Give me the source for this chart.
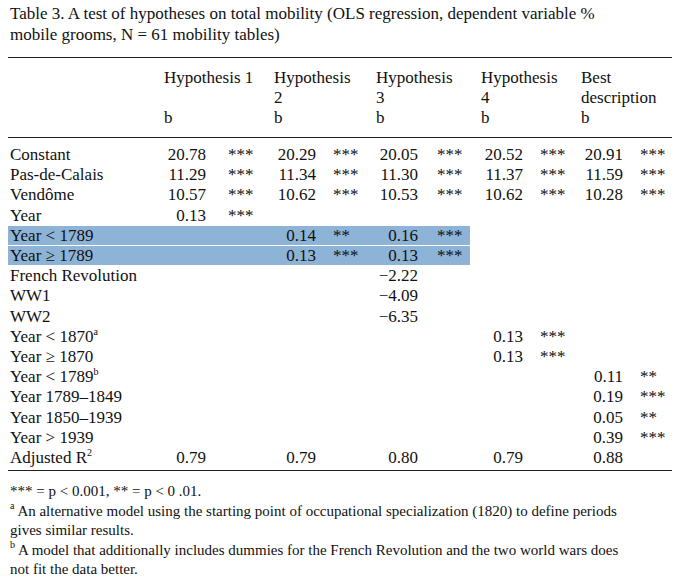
<!DOCTYPE html>
<html><head><meta charset="utf-8">
<script src="https://cdn.jsdelivr.net/npm/chart.js@4/dist/chart.umd.min.js"></script>
<style>
body{margin:0;background:#fff;font-family:"Liberation Serif","DejaVu Serif",serif;font-size:17px;color:#111;}
#t{position:relative;width:679px;height:582px;}
.a{position:absolute;white-space:nowrap;line-height:20px;}
.rule{position:absolute;left:8px;width:664px;height:1px;background:#222;}
.hl{position:absolute;left:8px;width:462px;height:19px;background:#8db3d6;}
.fn{font-size:15px;line-height:19px;}
sup{font-size:10px;line-height:0;vertical-align:0;position:relative;top:-7px;}
</style></head><body><div id="t"></div>
<script>
const title = ["Table 3.  A test of hypotheses on total mobility (OLS regression, dependent variable %", "mobile grooms, N = 61 mobility tables)"];
const headers = [["Hypothesis 1","","b"],["Hypothesis","2","b"],["Hypothesis","3","b"],["Hypothesis","4","b"],["Best","description","b"]];
const rowLabels = ["Constant","Pas-de-Calais","Vendôme","Year","Year < 1789","Year \u2265 1789","French Revolution","WW1","WW2","Year < 1870<sup>a</sup>","Year \u2265 1870","Year < 1789<sup>b</sup>","Year 1789\u20131849","Year 1850\u20131939","Year > 1939","Adjusted R<sup>2</sup>"];
// [value, stars] per column (Hyp1..Hyp4, Best)
const hyp1 = [["20.78","***"],["11.29","***"],["10.57","***"],["0.13","***"],null,null,null,null,null,null,null,null,null,null,null,["0.79",""]];
const hyp2 = [["20.29","***"],["11.34","***"],["10.62","***"],null,["0.14","**"],["0.13","***"],null,null,null,null,null,null,null,null,null,["0.79",""]];
const hyp3 = [["20.05","***"],["11.30","***"],["10.53","***"],null,["0.16","***"],["0.13","***"],["\u22122.22",""],["\u22124.09",""],["\u22126.35",""],null,null,null,null,null,null,["0.80",""]];
const hyp4 = [["20.52","***"],["11.37","***"],["10.62","***"],null,null,null,null,null,null,["0.13","***"],["0.13","***"],null,null,null,null,["0.79",""]];
const best = [["20.91","***"],["11.59","***"],["10.28","***"],null,null,null,null,null,null,null,null,["0.11","**"],["0.19","***"],["0.05","**"],["0.39","***"],["0.88",""]];
const footnotes = ["*** = p < 0.001, ** = p < 0 .01.","<sup>a</sup> An alternative model using the starting point of occupational specialization (1820) to define periods","gives similar results.","<sup>b</sup> A model that additionally includes dummies for the French Revolution and the two world wars does","not fit the data better."];

const t = document.getElementById('t');
function put(x,y,html,cls){const d=document.createElement('div');d.className='a '+(cls||'');d.style.left=x+'px';d.style.top=y+'px';d.innerHTML=html;t.appendChild(d);return d;}
function box(cls,y){const d=document.createElement('div');d.className=cls;d.style.top=y+'px';t.appendChild(d);}
box('hl',226); box('hl',246);
put(10,4,title[0]); put(10,25,title[1]);
box('rule',57); box('rule',137); box('rule',470);
const colX=[164,274,376,481,581], starX=[228,333,437,540,640];
headers.forEach((h,i)=>h.forEach((s,j)=>put(colX[i],68+j*20,s)));
const rowY=i=>145+i*20.2;
rowLabels.forEach((l,i)=>put(10,rowY(i),l));
[hyp1,hyp2,hyp3,hyp4,best].forEach((col,c)=>col.forEach((v,i)=>{if(!v)return;
  const d=put(0,rowY(i),v[0]);d.style.left='';d.style.right=(679-colX[c]-42)+'px';
  put(starX[c],rowY(i),v[1]);}));
footnotes.forEach((f,i)=>put(10,482+i*19.5,f,'fn'));
</script></body></html>
